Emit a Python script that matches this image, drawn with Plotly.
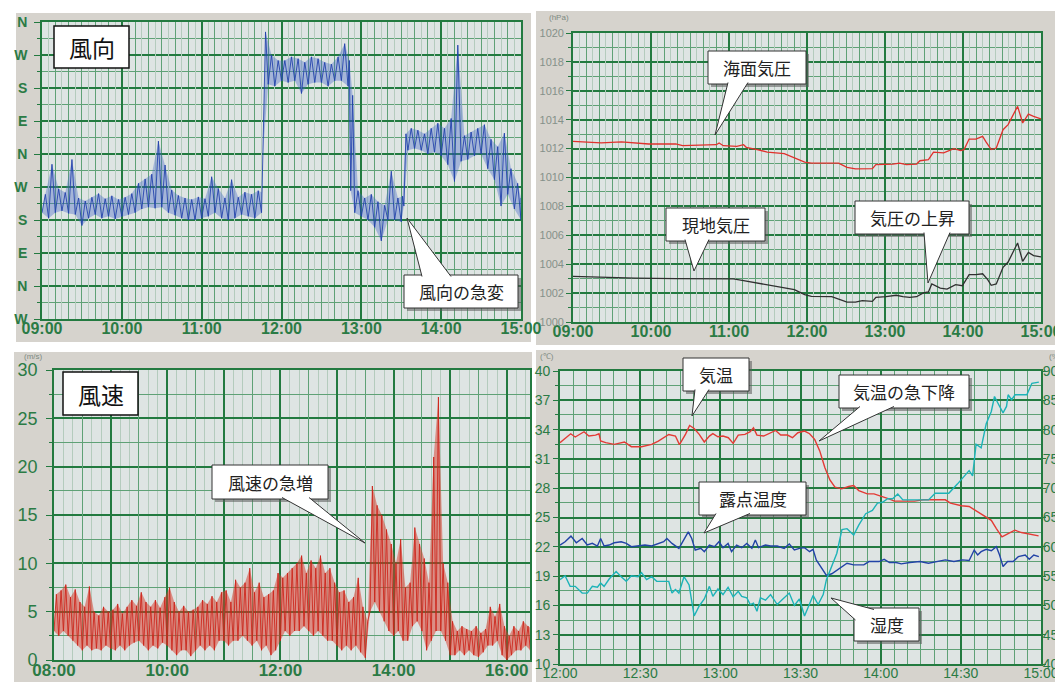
import plotly.graph_objects as go

W, H = 1063, 682

# ---------------- data ----------------
# Wind direction (deg, unwrapped: W=270, N=360, E=450, S=540, W=630, N=720 ...)
dir_time = ["09:00","09:05","09:10","09:15","09:20","09:25","09:30","09:35","09:40","09:45",
            "09:50","09:55","10:00","10:05","10:10","10:15","10:20","10:25","10:30","10:35",
            "10:40","10:45","10:50","10:55","11:00","11:05","11:10","11:15","11:20","11:25",
            "11:30","11:35","11:40","11:45","11:46","11:50","11:55","12:00","12:05","12:10",
            "12:15","12:20","12:25","12:30","12:35","12:40","12:45","12:50","12:52","12:55",
            "13:00","13:05","13:10","13:15","13:20","13:25","13:30","13:32","13:35","13:40",
            "13:45","13:50","13:55","14:00","14:05","14:10","14:15","14:20","14:25","14:30",
            "14:35","14:40","14:45","14:50","14:55","15:00"]
dir_lo = [560,545,560,565,558,555,525,545,555,545,550,543,550,555,560,570,575,572,575,560,
          553,545,540,540,545,550,560,545,540,545,555,550,545,560,718,910,905,920,915,920,
          885,910,915,915,905,920,920,905,620,560,550,540,520,483,540,540,535,578,730,735,
          730,720,725,715,691,645,700,705,715,720,680,650,578,610,570,540]
dir_hi = [610,692,625,615,705,600,592,602,612,598,606,596,602,612,640,652,665,755,690,622,
          607,600,596,603,598,658,626,600,650,602,616,610,620,615,1053,990,975,975,985,980,
          970,985,980,970,965,985,1021,975,880,620,600,610,590,580,673,600,605,775,790,785,
          775,790,804,790,817,1017,770,780,790,800,760,740,777,680,640,600]
dir_ticktext = ["W","N","E","S","W","N","E","S","W","N"]
dir_tickvals = [270,360,450,540,630,720,810,900,990,1080]

# Wind speed (m/s), 5-minute envelopes from 08:00
spd_start_hour = 8
spd_lo = [3.0,2.5,3.0,2.5,2.0,1.5,1.0,1.5,1.0,1.2, 1.0,1.5,1.2,1.0,1.5,1.0,1.5,1.8,2.0,1.5,
          1.0,1.5,1.2,1.8,1.5,1.0,0.5,1.0,1.0,0.4, 1.0,1.5,1.0,1.5,1.0,2.0,2.0,1.5,2.0,2.0,
          2.5,2.0,1.5,2.0,1.0,1.5,0.5,1.0,2.0,3.0, 2.5,3.0,3.0,3.5,3.0,2.5,3.0,2.5,2.0,2.0,
          1.5,1.0,1.5,1.0,1.5,0.8,0.2,5.0,6.0,5.0, 4.0,3.0,2.5,3.0,2.0,2.0,3.5,4.0,3.0,1.0,
          2.0,3.0,3.0,2.0,0.5,0.5,1.0,0.5,1.0,0.5, 0.3,0.8,1.5,1.5,2.0,0.5,0.0,0.5,1.0,1.0,
          1.5,1.0,1.5]
spd_hi = [6.8,7.2,7.8,6.5,7.3,6.0,5.5,7.6,5.0,4.6, 5.5,5.0,5.2,5.8,4.8,5.5,6.2,5.6,7.0,6.0,
          5.5,6.2,5.4,6.5,7.5,6.0,5.0,5.6,5.0,5.2, 5.5,6.2,5.8,6.6,6.0,7.0,7.2,6.0,8.3,7.5,
          8.0,9.5,7.0,8.0,6.5,6.8,7.2,9.0,8.5,9.0, 9.5,10.0,10.8,9.0,10.3,9.5,10.8,9.0,9.5,8.0,
          7.0,7.2,6.0,6.5,8.5,5.5,4.0,18.0,16.0,15.0, 13.5,12.0,10.0,12.5,7.5,8.0,13.7,12.0,10.5,8.0,
          21.0,27.2,10.0,8.0,4.0,3.0,3.5,3.2,3.0,3.5, 2.8,3.2,5.5,4.5,5.8,3.5,2.5,3.5,3.0,4.0,
          3.5,3.2,3.0]

# Pressure (hPa), minutes after 09:00
sea_min = [0,21.7,37.3,58.2,79.0,84.3,110.3,112.4,115.6,126.0,131.2,133.3,141.7,149.5,162.5,
           170.3,178.2,183.4,204.3,210.8,217.3,230.3,233.0,246.0,251.2,256.4,264.3,266.9,273.4,
           277.3,285.1,293.0,298.2,300.8,304.7,309.9,315.1,317.7,321.7,325.6,330.8,334.7,342.0,
           345.9,350.3,354.3,360]
sea_val = [1012.50,1012.39,1012.46,1012.32,1012.32,1012.20,1012.27,1012.39,1012.20,1012.16,
           1012.27,1012.09,1011.93,1011.76,1011.65,1011.35,1011.07,1011.0,1011.0,1010.70,
           1010.59,1010.61,1010.89,1010.93,1011.0,1010.89,1010.93,1011.16,1011.23,1011.76,
           1011.70,1011.99,1011.86,1011.93,1012.66,1012.66,1012.85,1012.46,1011.93,1012.04,
           1013.31,1013.66,1014.92,1013.77,1014.39,1014.23,1014.05]
sta_min = [0,21.7,47.7,79.0,110.3,123.4,131.2,141.7,152.1,162.5,170.3,178.2,183.4,199.0,204.3,
           210.8,217.3,222.5,230.3,233.0,240.8,248.6,253.8,259.0,264.3,269.5,273.4,276.0,282.5,
           287.7,294.3,299.5,304.7,309.9,315.1,319.0,321.7,325.6,330.8,334.7,342.0,345.9,350.3,
           354.3,360]
sta_val = [1003.16,1003.09,1003.04,1003.0,1003.0,1002.98,1002.86,1002.70,1002.54,1002.40,
           1002.24,1001.89,1001.78,1001.75,1001.59,1001.38,1001.38,1001.48,1001.43,1001.71,
           1001.75,1001.85,1001.75,1001.71,1001.75,1002.01,1002.08,1002.63,1002.35,1002.28,
           1002.58,1002.51,1003.28,1003.28,1003.34,1002.93,1002.54,1002.63,1003.78,1004.15,
           1005.47,1004.20,1004.82,1004.59,1004.50]

# Temperature / dew point (deg C) / humidity (%), minutes after 12:00
temp_min = [0,4,5.7,9,10.8,13.3,14.6,15.2,17.1,20.3,24.1,26.7,30.5,34.3,36.8,40.7,43.2,44.7,47,48.5,
            50.2,52.1,54,55.9,57.2,59.1,61,63,64.8,66.7,69.2,71.2,72.4,73.7,76.2,78.8,80.7,82.6,85.1,87,
            89,91.5,93.4,95.3,97.2,99.1,101,102.9,105.4,108,109.9,111.8,115,117.5,120.7,123.1,125.1,
            129.5,132.7,135.9,139.8,144.2,146.1,150.2,153.1,155,158.8,161.4,163.3,165.4,167.7,170.2,
            172.7,175.3,179.1]
temp_val = [32.66,33.57,33.24,33.78,33.34,33.44,33.57,32.83,32.66,32.49,32.73,32.25,32.25,32.49,32.83,
            33.5,33.34,32.46,33.54,34.42,34.12,33.51,32.73,33.34,33.58,33.27,33.34,33.17,32.59,33.44,
            33.51,33.78,34.18,33.44,33.34,33.68,33.91,33.44,33.44,33.17,33.68,33.85,33.58,33.0,31.82,
            30.13,28.85,28.1,27.93,28.17,28.27,27.76,27.42,27.42,27.15,26.91,26.68,26.68,26.68,26.81,
            26.81,26.81,26.47,26.2,26.13,25.8,25.12,24.71,23.87,23.02,23.36,23.7,23.46,23.29,23.12]
dew_min = [0,1.9,4.1,6.1,8.3,10.2,12.1,14.0,15.2,16.5, 18.4,20.3,22.9,24.8,26.7,29.2,31.8,34.3,36.8,38.8,
           40.0,41.9,44.5,46.4,48.0,49.3,50.6,52.7,54.0,55.9, 57.8,59.5,61.0,62.9,64.2,66.1,68.0,69.9,71.8,73.1,
           74.3,76.9,78.8,81.3,83.9,85.8,87.7,89.6,91.5,93.4, 94.7,95.9,97.8,99.7,101.7,104.2,107.4,109.9,111.8,113.7,
           115.6,117.5,119.4,121.3,123.3,125.8,127.7,130.9,134.7,137.9, 141.0,144.2,147.4,150.6,153.1,155.0,156.3,157.6,159.5,161.4,
           163.3,164.5,165.8,167.5,169.6,171.5,174.1,175.6,177.3,179.2]
dew_val = [22.18,22.52,23.09,22.41,22.85,22.18,22.35,22.08,22.85,22.08, 22.18,22.41,22.52,22.35,22.01,22.08,22.18,22.08,22.35,22.52,
           22.85,22.35,21.84,22.69,23.53,22.85,21.67,21.84,21.50,22.18, 22.01,22.52,21.91,22.35,21.50,22.18,21.91,22.35,21.84,22.69,
           21.91,22.18,22.08,22.08,21.84,22.28,21.67,21.84,21.91,21.50, 21.74,20.66,19.81,19.07,19.24,19.71,20.32,20.15,20.15,20.15,
           20.49,20.49,20.49,20.72,20.39,20.39,20.25,20.39,20.49,20.32, 20.49,20.66,20.49,20.66,20.59,21.67,21.16,21.50,21.74,21.60,
           22.01,21.16,19.98,20.49,20.49,20.99,21.16,20.72,21.16,20.99]
hum_min = [0,1.9,3.8,5.7,8.3,10.2,12.1,14.0,15.2,16.5, 18.4,21.0,22.9,24.8,26.7,29.2,30.5,32.4,34.3,36.2,
           38.1,40.7,41.9,43.2,44.5,46.4,48.3,50.2,52.1,54.0, 55.9,57.2,59.1,61.0,62.9,64.8,66.7,68.0,69.9,71.2,
           72.4,73.7,75.0,76.9,78.8,81.3,83.2,85.8,87.7,89.6, 91.5,93.4,94.7,96.6,98.5,99.7,101.7,103.6,105.5,107.4,
           109.9,111.8,114.4,116.9,118.8,120.7,122.6,124.5,126.4,128.3, 130.9,134.7,137.9,140.4,145.5,148.7,151.2,153.1,154.4,155.7,
           157.6,159.5,161.4,162.6,163.9,165.8,167.1,167.7,169.0,170.3, 174.7,176.6,179.2]
hum_val = [54.4,55.05,53.25,53.25,52.1,52.1,53.25,53.1,53.8,53.25, 54.5,55.8,54.9,54.1,55.05,54.9,55.6,54.4,54.9,54.1,
           54.1,54.1,52.1,52.7,52.1,54.9,53.5,48.2,49.9,51.1, 53.25,51.55,52.8,51.85,53.1,51.45,52.4,51.55,51.3,50.15,
           50.4,49.0,51.3,50.9,51.85,50.15,51.0,52.1,50.0,51.1, 48.2,50.15,51.7,50.15,51.85,54.4,56.9,58.9,62.95,63.1,
           62.0,63.7,65.65,66.2,67.45,67.6,68.2,68.2,69.0,68.0, 68.0,68.0,68.0,69.15,69.15,70.7,72.1,73.0,72.1,77.5,
           76.9,81.0,83.1,85.65,84.5,82.85,83.95,85.95,85.1,85.95, 85.95,87.9,88.1]

time_labels_6h = ["09:00","10:00","11:00","12:00","13:00","14:00","15:00"]
spd_labels = ["08:00","","10:00","","12:00","","14:00","","16:00"]
temp_xlabels = ["12:00","12:30","13:00","13:30","14:00","14:30","15:00"]

# ---------------- helpers ----------------
def hrs(s):
    h, m = s.split(":")
    return int(h) + int(m) / 60.0

def envelope(times, lo, hi):
    """zigzag through the low/high envelope and the closed band polygon"""
    xs, ys, up_x = [], [], []
    n = len(times)
    for i in range(n):
        t = times[i]
        half = 0 if i + 1 == n else min(2.5 / 60, (times[i + 1] - t) / 2)
        xs += [t, t + half]
        ys += [lo[i], hi[i]]
        up_x.append(t + half)
    band_x = up_x + times[::-1]
    band_y = list(hi) + list(lo)[::-1]
    return xs, ys, band_x, band_y

def px(x):
    return x / W

def py(y):
    return 1 - y / H

def dx(a, b):
    return [a / W, b / W]

def dy(top, bottom):
    return [1 - bottom / H, 1 - top / H]

PANEL = "#d6d3cd"
PLOTBG = "#dee4e3"
G_DARK = "#237a40"
G_MID = "#5fa176"
G_LIGHT = "#b4cbbd"
TXT = "#2b7b45"

# plot-area pixel boxes (left, top, right, bottom)
A1 = (34, 14, 513, 311)
A2 = (565, 25, 1033, 314)
A3 = (46, 362, 522, 652)
A4 = (552, 363, 1033, 656)
spd_end = 8 + (A3[2] - A3[0]) / 56.6

fig = go.Figure()

# Panel 1: wind direction
zx, zy, bx, by = envelope([hrs(t) for t in dir_time], dir_lo, dir_hi)
fig.add_trace(go.Scatter(x=bx, y=by, mode="lines", fill="toself", fillcolor="rgba(70,105,200,0.38)",
                         line=dict(width=0), xaxis="x", yaxis="y", hoverinfo="skip"))
fig.add_trace(go.Scatter(x=zx, y=zy, mode="lines", line=dict(color="rgba(30,62,170,0.95)", width=0.9),
                         xaxis="x", yaxis="y", hoverinfo="skip"))
fig.add_trace(go.Scatter(x=[9], y=[None], xaxis="x5", yaxis="y", hoverinfo="skip"))

# Panel 2: pressure
fig.add_trace(go.Scatter(x=[9 + m / 60 for m in sea_min], y=sea_val, mode="lines",
                         line=dict(color="#e0302c", width=1.3), xaxis="x2", yaxis="y2"))
fig.add_trace(go.Scatter(x=[9 + m / 60 for m in sta_min], y=sta_val, mode="lines",
                         line=dict(color="#303030", width=1.3), xaxis="x2", yaxis="y2"))
fig.add_trace(go.Scatter(x=[9], y=[None], xaxis="x6", yaxis="y2", hoverinfo="skip"))

# Panel 3: wind speed
spd_times = [spd_start_hour + 5 * k / 60 for k in range(len(spd_lo))]
zx, zy, bx, by = envelope(spd_times, spd_lo, spd_hi)
fig.add_trace(go.Scatter(x=bx, y=by, mode="lines", fill="toself", fillcolor="rgba(215,55,40,0.5)",
                         line=dict(width=0), xaxis="x3", yaxis="y3", hoverinfo="skip"))
fig.add_trace(go.Scatter(x=zx, y=zy, mode="lines", line=dict(color="rgba(205,35,25,0.95)", width=0.9),
                         xaxis="x3", yaxis="y3", hoverinfo="skip"))
fig.add_trace(go.Scatter(x=[8], y=[None], xaxis="x7", yaxis="y3", hoverinfo="skip"))

# Panel 4: temperature, dew point, humidity
fig.add_trace(go.Scatter(x=[12 + m / 60 for m in temp_min], y=temp_val, mode="lines",
                         line=dict(color="#e33a35", width=1.4), xaxis="x4", yaxis="y4"))
fig.add_trace(go.Scatter(x=[12 + m / 60 for m in dew_min], y=dew_val, mode="lines",
                         line=dict(color="#2243a6", width=1.4), xaxis="x4", yaxis="y4"))
fig.add_trace(go.Scatter(x=[12 + m / 60 for m in hum_min], y=hum_val, mode="lines",
                         line=dict(color="#1db3b8", width=1.4), xaxis="x4", yaxis="y5"))

font_time = dict(family="Liberation Sans", size=16, color=TXT, weight="bold")

def base_x(domain, rng, tickvals, ticktext, anchor, minor_dtick, minor_tick0, minor_color, font, standoff):
    return dict(domain=domain, range=rng, anchor=anchor, tickmode="array", tickvals=tickvals,
                ticktext=ticktext, showgrid=True, gridcolor=G_DARK, gridwidth=1.6,
                minor=dict(tickmode="linear", tick0=minor_tick0, dtick=minor_dtick, showgrid=True,
                           gridcolor=minor_color, gridwidth=1),
                ticks="", tickfont=font, ticklabelstandoff=standoff,
                showline=True, linecolor=G_DARK, linewidth=1.6, mirror=True,
                zeroline=False, fixedrange=True, automargin=False)

def base_y(domain, rng, tickvals, ticktext, anchor, minor_dtick, minor_tick0, minor_color, font,
           ticklen=6, standoff=0):
    return dict(domain=domain, range=rng, anchor=anchor, tickmode="array", tickvals=tickvals,
                ticktext=ticktext, showgrid=True, gridcolor=G_DARK, gridwidth=1.6,
                minor=dict(tickmode="linear", tick0=minor_tick0, dtick=minor_dtick, showgrid=True,
                           gridcolor=minor_color, gridwidth=1, ticks="outside", ticklen=3,
                           tickcolor=G_DARK),
                ticks="outside", ticklen=ticklen, tickcolor=G_DARK, tickwidth=1.4, tickfont=font,
                ticklabelstandoff=standoff,
                showline=True, linecolor=G_DARK, linewidth=1.6, mirror=True,
                zeroline=False, fixedrange=True, automargin=False)

def overlay_x(over, anchor, rng, tick0, dtick, color):
    return dict(overlaying=over, anchor=anchor, range=rng, tickmode="linear", tick0=tick0, dtick=dtick,
                showgrid=True, gridcolor=color, gridwidth=1, showticklabels=False, ticks="",
                zeroline=False, showline=False, fixedrange=True, automargin=False)

layout_axes = dict(
    xaxis=base_x(dx(A1[0], A1[2]), [9, 15], list(range(9, 16)), time_labels_6h, "y", 1 / 6, 9, G_MID,
                 font_time, -6),
    yaxis=base_y(dy(A1[1], A1[3]), [270, 1080], dir_tickvals, dir_ticktext, "x", 45, 270, G_MID,
                 dict(family="Liberation Sans", size=14, color=TXT, weight="bold"), standoff=4),
    xaxis5=overlay_x("x", "y", [9, 15], 9 + 1 / 12, 1 / 6, G_LIGHT),
    xaxis2=base_x(dx(A2[0], A2[2]), [9, 15], list(range(9, 16)), time_labels_6h, "y2", 1 / 6, 9, G_MID,
                  font_time, -6),
    yaxis2=base_y(dy(A2[1], A2[3]), [1000, 1020], list(range(1000, 1021, 2)),
                  [str(v) for v in range(1000, 1021, 2)], "x2", 1, 1000, G_MID,
                  dict(family="Liberation Sans Narrow, Liberation Sans", size=11, color="#85918a"), ticklen=5),
    xaxis6=overlay_x("x2", "y2", [9, 15], 9 + 1 / 12, 1 / 6, G_LIGHT),
    xaxis3=base_x(dx(A3[0], A3[2]), [8, spd_end], list(range(8, 17)), spd_labels, "y3", 1 / 6, 8, G_LIGHT,
                  dict(family="Liberation Sans", size=17, color=TXT, weight="bold"), -6),
    yaxis3=base_y(dy(A3[1], A3[3]), [0, 30], list(range(0, 31, 5)), [str(v) for v in range(0, 31, 5)], "x3",
                  2.5, 0, G_MID, dict(family="Liberation Sans", size=18, color=TXT), standoff=5),
    xaxis7=overlay_x("x3", "y3", [8, spd_end], 8.5, 1, G_MID),
    xaxis4=base_x(dx(A4[0], A4[2]), [12, 15], [12, 12.5, 13, 13.5, 14, 14.5, 15], temp_xlabels, "y4",
                  1 / 12, 12, G_MID, dict(family="Liberation Sans", size=14, color=TXT), -5),
    yaxis4=base_y(dy(A4[1], A4[3]), [10, 40], list(range(10, 41, 3)), [str(v) for v in range(10, 41, 3)], "x4",
                  1.5, 10, G_MID, dict(family="Liberation Sans", size=14, color=TXT), ticklen=5),
    yaxis5=dict(overlaying="y4", anchor="x4", side="right", range=[40, 90], tickmode="array",
                tickvals=list(range(40, 91, 5)), ticktext=[str(v) for v in range(40, 91, 5)],
                showgrid=False, ticks="outside", ticklen=4, tickcolor=G_DARK, tickwidth=1.4,
                ticklabelstandoff=-6,
                tickfont=dict(family="Liberation Sans", size=14, color=TXT), zeroline=False,
                showline=False, fixedrange=True, automargin=False),
)

shapes = []
# panel backgrounds
for (x0, y0, x1, y1) in [(8, 5, 523, 334), (528, 3, 1063, 337), (6, 344, 524, 677), (528, 342, 1063, 682)]:
    shapes.append(dict(type="rect", xref="paper", yref="paper", x0=px(x0), x1=px(x1), y0=py(y1), y1=py(y0),
                       fillcolor=PANEL, line=dict(width=0), layer="below"))
# plot areas
for (x0, y0, x1, y1) in [A1, A2, A3, A4]:
    shapes.append(dict(type="rect", xref="paper", yref="paper", x0=px(x0), x1=px(x1), y0=py(y1), y1=py(y0),
                       fillcolor=PLOTBG, line=dict(width=0), layer="below"))

annotations = []
# title boxes
for text, (x0, y0, x1, y1) in [("風向", (46, 18, 121, 60)), ("風速", (55, 364, 130, 407))]:
    shapes.append(dict(type="rect", xref="paper", yref="paper", x0=px(x0), x1=px(x1), y0=py(y1), y1=py(y0),
                       fillcolor="white", line=dict(color="#111", width=1.5)))
    annotations.append(dict(text=text, xref="paper", yref="paper", x=px((x0 + x1) / 2), y=py((y0 + y1) / 2),
                            showarrow=False, xanchor="center", yanchor="middle",
                            font=dict(family="Noto Sans CJK JP", size=23, color="#111")))

callouts = [
    ("風向の急変", (396, 267, 510, 300), ((414, 268.5), (399, 210), (443, 268.5))),
    ("海面気圧", (700, 43, 798, 76), ((720, 74.5), (707, 127), (740, 74.5))),
    ("現地気圧", (658, 200, 757, 233), ((677, 231.5), (686, 263), (701, 231.5))),
    ("気圧の上昇", (847, 193, 961, 226), ((916, 224.5), (920, 275), (942, 224.5))),
    ("風速の急増", (204, 457, 320, 491), ((274, 489.5), (357, 535), (301, 489.5))),
    ("気温", (675, 350, 741, 383), ((687, 381.5), (684, 408), (701, 381.5))),
    ("気温の急下降", (831, 367, 961, 400), ((852, 398.5), (811, 433), (886, 398.5))),
    ("露点温度", (691, 474, 798, 507), ((708, 505.5), (696, 525), (742, 505.5))),
    ("湿度", (846, 600, 911, 633), ((847.5, 612), (823, 590), (866, 601.5))),
]
for text, (x0, y0, x1, y1), (a, tip, b) in callouts:
    shapes.append(dict(type="rect", xref="paper", yref="paper", x0=px(x0 + 3), x1=px(x1 + 3),
                       y0=py(y1 + 3), y1=py(y0 + 3), fillcolor="rgba(90,90,90,0.55)", line=dict(width=0)))
    shapes.append(dict(type="rect", xref="paper", yref="paper", x0=px(x0), x1=px(x1), y0=py(y1), y1=py(y0),
                       fillcolor="white", line=dict(color="#333", width=1)))
    path = "M {:.5f},{:.5f} L {:.5f},{:.5f} L {:.5f},{:.5f}".format(px(a[0]), py(a[1]), px(tip[0]), py(tip[1]),
                                                                   px(b[0]), py(b[1]))
    shapes.append(dict(type="path", xref="paper", yref="paper", path=path, fillcolor="white",
                       line=dict(color="#333", width=1)))
    annotations.append(dict(text=text, xref="paper", yref="paper", x=px((x0 + x1) / 2), y=py((y0 + y1) / 2),
                            showarrow=False, xanchor="center", yanchor="middle",
                            font=dict(family="Noto Sans CJK JP", size=17, color="#222")))

# unit labels
for text, x, y in [("(hPa)", 551, 10), ("(m/s)", 25, 348), ("(℃)", 539, 348), ("(%)", 1047, 348)]:
    annotations.append(dict(text=text, xref="paper", yref="paper", x=px(x), y=py(y), showarrow=False,
                            xanchor="center", yanchor="middle",
                            font=dict(family="Liberation Sans", size=8, color="#7d8a82")))

fig.update_layout(
    width=W, height=H, margin=dict(l=0, r=0, t=0, b=0, autoexpand=False),
    paper_bgcolor="white", plot_bgcolor="rgba(0,0,0,0)", showlegend=False,
    shapes=shapes, annotations=annotations, **layout_axes,
)

fig.write_html("out.html")
